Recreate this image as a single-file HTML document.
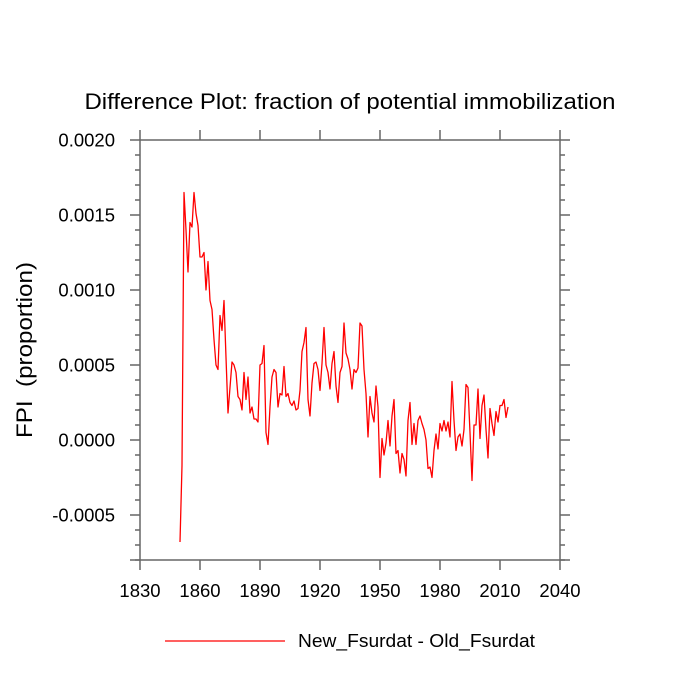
<!DOCTYPE html>
<html><head><meta charset="utf-8">
<style>
html,body{margin:0;padding:0;background:#fff;}
svg{display:block;font-family:"Liberation Sans",sans-serif;}
</style></head>
<body>
<svg id="chart" width="700" height="700" viewBox="0 0 700 700">
<text x="350" y="109" text-anchor="middle" font-size="22" textLength="531" lengthAdjust="spacingAndGlyphs" fill="#000">Difference Plot: fraction of potential immobilization</text>
<text transform="translate(32,350) rotate(-90)" text-anchor="middle" font-size="22" textLength="176" lengthAdjust="spacingAndGlyphs" fill="#000" style="white-space:pre">FPI  (proportion)</text>
<g id="axes"></g>
<g id="series"></g>
<line x1="165" y1="641" x2="285" y2="641" stroke="#ff0000" stroke-width="1.2"/>
<text x="298" y="647" font-size="18.5" textLength="237" lengthAdjust="spacingAndGlyphs" fill="#000">New_Fsurdat - Old_Fsurdat</text>
</svg>
<script>
const startYear = 1850;
const fpiValues = [
-0.00068,-0.00017,0.00165,0.0014,0.00112,0.00145,0.00142,0.00165,0.00151,0.00143,
0.00122,0.00122,0.00125,0.001,0.00119,0.00093,0.00087,0.00067,0.0005,0.00047,
0.00083,0.00073,0.00093,0.00055,0.00018,0.00035,0.00052,0.0005,0.00045,0.00029,
0.00027,0.0002,0.00045,0.00027,0.00042,0.00018,0.00022,0.00014,0.00014,0.00012,
0.0005,0.00051,0.00063,0.00005,-0.00003,0.00022,0.00042,0.00047,0.00045,0.00022,
0.00031,0.0003,0.00049,0.00029,0.00031,0.00025,
0.00023,0.00026,0.0002,0.00021,0.00033,0.00059,0.00065,0.00075,0.00027,0.00016,
0.00038,0.00051,0.00052,0.00047,0.00033,0.00051,0.00075,0.0005,0.00045,0.00034,
0.00051,0.00059,0.00036,0.00025,0.00045,0.00049,0.00078,0.00058,0.00054,0.00047,
0.00034,0.00047,0.00045,0.00048,0.00078,0.00076,0.00047,0.00031,0.00002,0.00029,
0.00018,0.00012,0.00036,0.00022,-0.00025,0.00001,-0.0001,-0.00002,0.00013,-0.00004,
0.00016,
0.00027,-0.00009,-0.00007,-0.00022,-0.00009,-0.00013,-0.00024,0.00013,0.00025,-0.00003,
0.00011,-0.00003,0.00013,0.00016,0.00011,0.00007,0.0,-0.00019,-0.00018,-0.00025,
-0.00007,0.00004,-0.00006,0.00011,0.00006,0.00013,0.00006,0.00012,0.00002,0.00039,
0.00013,-0.00007,0.00002,0.00004,-0.00004,0.00007,0.00037,0.00035,0.00005,-0.00027,
0.0001,0.0001,0.00034,0.00001,0.00023,0.0003,0.00007,-0.00012,0.00021,0.00011,
0.00003,0.00019,0.00012,0.00023,0.00023,0.00027,0.00015,0.00022
];
const xTickLabels = ["1830","1860","1890","1920","1950","1980","2010","2040"];
const yTickLabels = ["-0.0005","0.0000","0.0005","0.0010","0.0015","0.0020"];
const yTickValues = [-0.0005,0,0.0005,0.001,0.0015,0.002];

const L=140,R=560,T=140,B=560, xMin=1830,xMax=2040,yMin=-0.0008,yMax=0.002;
function xs(v){return L+(v-xMin)/(xMax-xMin)*(R-L);}
function ys(v){return B-(v-yMin)/(yMax-yMin)*(B-T);}
const NS="http://www.w3.org/2000/svg";
const axes=document.getElementById('axes');
function ln(x1,y1,x2,y2,name){
  const l=document.createElementNS(NS,'line');
  l.setAttribute('x1',x1);l.setAttribute('y1',y1);l.setAttribute('x2',x2);l.setAttribute('y2',y2);
  l.setAttribute('stroke','#666');l.setAttribute('stroke-width','1.5');
  
  
  axes.appendChild(l);
}
const fr=document.createElementNS(NS,'rect');
fr.setAttribute('x',L);fr.setAttribute('y',T);fr.setAttribute('width',R-L);fr.setAttribute('height',B-T);
fr.setAttribute('fill','none');fr.setAttribute('stroke','#666');fr.setAttribute('stroke-width','1.5');


axes.appendChild(fr);
xTickLabels.forEach(function(lab){
  const v=+lab, x=xs(v);
  ln(x,B,x,B+10,'x-tick');
  ln(x,T,x,T-10,'x-tick-top');
  const t=document.createElementNS(NS,'text');
  t.setAttribute('x',x);t.setAttribute('y',B+37);t.setAttribute('text-anchor','middle');t.setAttribute('font-size','18.5');
  t.textContent=lab;
  
  
  axes.appendChild(t);
});
for(let k=-8;k<=20;k++){
  const v=k*0.0001, y=ys(v);
  if(k%5!==0){ ln(L-5,y,L,y,'y-minor-tick'); ln(R,y,R+5,y,'y-minor-tick-right'); }
}
yTickValues.forEach(function(v,i){
  const y=ys(v);
  ln(L-10,y,L,y,'y-tick'); ln(R,y,R+10,y,'y-tick-right');
  const t=document.createElementNS(NS,'text');
  t.setAttribute('x',115);t.setAttribute('y',y+6.5);t.setAttribute('text-anchor','end');t.setAttribute('font-size','18.5');
  t.textContent=yTickLabels[i];
  
  
  axes.appendChild(t);
});
ln(L-10,B,L,B,'y-tick-bottom'); ln(R,B,R+10,B,'y-tick-bottom-right');
const pts=fpiValues.map(function(v,i){return xs(startYear+i).toFixed(2)+','+ys(v).toFixed(2);}).join(' ');
const pl=document.createElementNS(NS,'polyline');
pl.setAttribute('points',pts);pl.setAttribute('fill','none');pl.setAttribute('stroke','#ff0000');
pl.setAttribute('stroke-width','1.3');pl.setAttribute('stroke-linejoin','round');


document.getElementById('series').appendChild(pl);
</script>
</body></html>
